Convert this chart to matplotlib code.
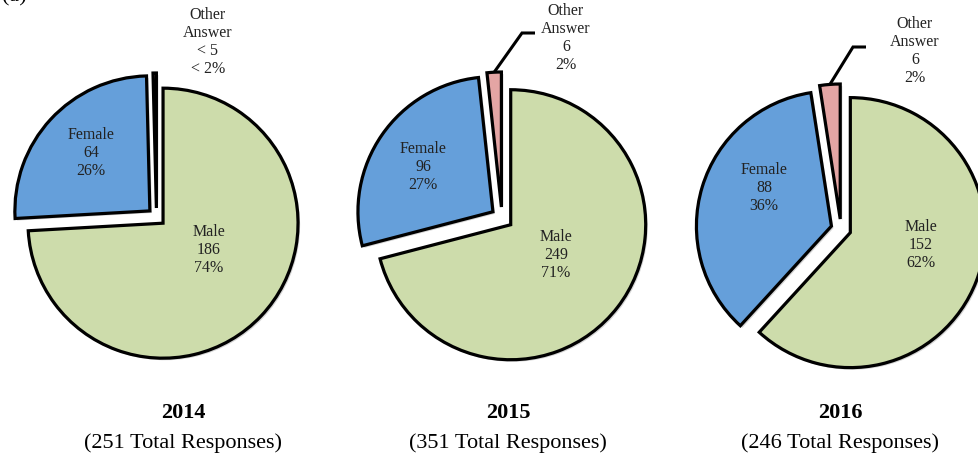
import numpy as np
import matplotlib
matplotlib.use("Agg")
import matplotlib.pyplot as plt
import matplotlib.patheffects as pe

plt.rcParams['font.family'] = ['Liberation Serif', 'DejaVu Serif']

# survey responses per year
years = ['2014', '2015', '2016']
totals = [251, 351, 246]
male = [186, 249, 152]
female = [64, 96, 88]
other = [1, 6, 6]
male_pct = ['74%', '71%', '62%']
female_pct = ['26%', '27%', '36%']
other_count_text = ['< 5', '6', '6']
other_pct_text = ['< 2%', '2%', '2%']

colors = ['#CDDCAB', '#659FDA', '#E4A5A4']

W, H = 979, 459
# layout in pixel units (y measured from top)
centers = [(156.5, 217), (502, 218), (841, 229)]
radius = 135
explode_px = [9, 11, 10]
female_xy = [(91, 153), (423, 167), (764, 188)]
male_xy = [(209, 250), (556, 255), (921, 245)]
other_xy = [(208, 42), (566, 38), (915, 51)]
knee_xy = [None, (522, 33), (853, 47)]
title_x = [183, 508, 840]

fig = plt.figure(figsize=(W / 100, H / 100), dpi=100)
ax = fig.add_axes([0, 0, 1, 1])

shadow = [pe.SimplePatchShadow(offset=(1.5, -1.5), shadow_rgbFace='#888888', alpha=0.35),
          pe.Normal()]

for i in range(3):
    vals = [male[i], female[i], other[i]]
    cx, cy = centers[i]
    e = explode_px[i]
    wedges, _ = ax.pie(vals, center=(cx, H - cy), radius=radius,
                       startangle=90, counterclock=False,
                       explode=[e, e, e], colors=colors,
                       wedgeprops=dict(edgecolor='black', linewidth=2.3,
                                       joinstyle='miter', path_effects=shadow))

    fx, fy = female_xy[i]
    ax.text(fx, H - fy, f"Female\n{female[i]}\n{female_pct[i]}", ha='center', va='center',
            fontsize=11.5, linespacing=1.15, color='#222222')
    mx, my = male_xy[i]
    ax.text(mx, H - my, f"Male\n{male[i]}\n{male_pct[i]}", ha='center', va='center',
            fontsize=11.5, linespacing=1.15, color='#222222')
    ox, oy = other_xy[i]
    ax.text(ox, H - oy, f"Other\nAnswer\n{other_count_text[i]}\n{other_pct_text[i]}",
            ha='center', va='center', fontsize=11.5, linespacing=1.15, color='#222222')

    # leader line from the outer tip of the "other" wedge
    if knee_xy[i] is not None:
        w = wedges[2]
        tm = np.deg2rad((w.theta1 + w.theta2) / 2)
        px = w.center[0] + w.r * np.cos(tm)
        py = w.center[1] + w.r * np.sin(tm)
        kx, ky = knee_xy[i]
        ax.plot([px, kx, kx + 13], [py, H - ky, H - ky], color='black', lw=2.2,
                solid_joinstyle='miter', solid_capstyle='butt')

    ax.text(title_x[i], H - 413, years[i], ha='center', va='center',
            fontsize=16, fontweight='bold')
    ax.text(title_x[i], H - 443, f"({totals[i]} Total Responses)", ha='center',
            va='center', fontsize=16)

fig.text(2 / W, (H - 1) / H, "(a)", ha='left', va='baseline', fontsize=16)

ax.set_xlim(0, W)
ax.set_ylim(0, H)
ax.set_aspect('auto')
ax.axis('off')

fig.savefig('out.png', dpi=100)
